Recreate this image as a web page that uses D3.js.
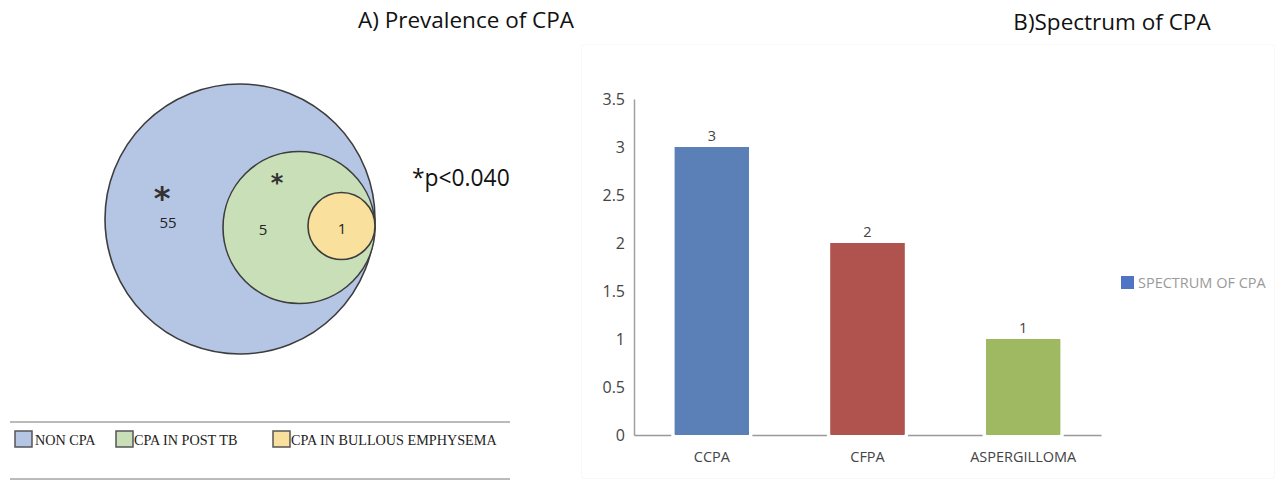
<!DOCTYPE html>
<html>
<head>
<meta charset="utf-8">
<script src="https://cdn.jsdelivr.net/npm/d3@7"></script>
<style>
  html, body { margin: 0; padding: 0; background: #fff; }
  svg { display: block; }
</style>
</head>
<body>
<script>
// ---------- DATA ----------
const vennGroups = ["NON CPA", "CPA IN POST TB", "CPA IN BULLOUS EMPHYSEMA"];
const vennValues = [55, 5, 1];
const vennSignif = [true, true, false];
const pValueLabel = "*p<0.040";

const barCategories = ["CCPA", "CFPA", "ASPERGILLOMA"];
const barValues = [3, 2, 1];
const barSeriesName = "SPECTRUM OF CPA";
const yTicks = [0, 0.5, 1, 1.5, 2, 2.5, 3, 3.5];

const titleA = "A) Prevalence of CPA";
const titleB = "B)Spectrum of CPA";

// ---------- SETUP ----------
const W = 1278, H = 481;
const svg = d3.select("body").append("svg").attr("width", W).attr("height", H);
const calibri = "'Open Sans', 'Noto Sans', sans-serif";

// ---------- PANEL A: nested Venn ----------
const vennFill = d3.scaleOrdinal().domain(vennGroups).range(["#b5c6e5", "#c9dfb8", "#f9e09c"]);
const vennR = d3.scaleOrdinal().domain(vennGroups).range([135, 76, 33.5]);
const tangentX = 375, tangentY = 222;
const cyOffset = d3.scaleOrdinal().domain(vennGroups).range([-3, 5.5, 4]);

svg.append("text").attr("x", 466).attr("y", 28).attr("text-anchor", "middle")
  .attr("font-family", calibri).attr("font-size", 22.5).attr("fill", "#111").text(titleA);

const gA = svg.append("g");
gA.selectAll("circle.venn").data(vennGroups).join("circle")
  .attr("class", "venn")
  .attr("cx", d => tangentX - vennR(d))
  .attr("cy", d => tangentY + cyOffset(d))
  .attr("r", d => vennR(d))
  .attr("fill", d => vennFill(d))
  .attr("stroke", "#3d3d3d").attr("stroke-width", 1.6);

// value labels
const labelPos = d3.scaleOrdinal().domain(vennGroups).range([[168, 228], [263, 235], [342, 234]]);
gA.selectAll("text.vval").data(vennGroups).join("text")
  .attr("class", "vval")
  .attr("x", d => labelPos(d)[0]).attr("y", d => labelPos(d)[1])
  .attr("text-anchor", "middle").attr("font-family", calibri).attr("font-size", 15)
  .attr("fill", "#222")
  .text((d, i) => vennValues[i]);

// significance stars
const starPos = d3.scaleOrdinal().domain(vennGroups).range([[162, 209, 32], [277, 191, 24], [0, 0, 0]]);
gA.selectAll("text.star").data(vennGroups.filter((d, i) => vennSignif[i])).join("text")
  .attr("class", "star")
  .attr("x", d => starPos(d)[0]).attr("y", d => starPos(d)[1])
  .attr("text-anchor", "middle").attr("font-family", "'DejaVu Sans', sans-serif")
  .attr("font-weight", "bold").attr("font-size", d => starPos(d)[2])
  .attr("fill", "#333").text("*");

svg.append("text").attr("x", 412).attr("y", 186)
  .attr("font-family", calibri).attr("font-size", 22.8).attr("fill", "#111").text(pValueLabel);

// legend
svg.append("line").attr("x1", 10).attr("x2", 510).attr("y1", 422).attr("y2", 422)
  .attr("stroke", "#777").attr("stroke-width", 1);
svg.append("line").attr("x1", 10).attr("x2", 510).attr("y1", 479).attr("y2", 479)
  .attr("stroke", "#777").attr("stroke-width", 1);
const legX = d3.scaleOrdinal().domain(vennGroups).range([15, 116, 273]);
const lg = svg.selectAll("g.vleg").data(vennGroups).join("g").attr("class", "vleg")
  .attr("transform", d => `translate(${legX(d)},431)`);
lg.append("rect").attr("width", 17).attr("height", 16)
  .attr("fill", d => vennFill(d)).attr("stroke", "#555").attr("stroke-width", 1.5);
lg.append("text").attr("x", (d, i) => i === 0 ? 20 : 18).attr("y", 13.5)
  .attr("font-family", "'Liberation Serif', serif").attr("font-size", 14.2)
  .attr("fill", "#222").text(d => d);

// ---------- PANEL B: bar chart ----------
svg.append("text").attr("x", 1112).attr("y", 30).attr("text-anchor", "middle")
  .attr("font-family", calibri).attr("font-size", 22.5).attr("fill", "#111").text(titleB);

// faint chart-area border
svg.append("rect").attr("x", 581.5).attr("y", 44.5).attr("width", 693).attr("height", 434)
  .attr("fill", "none").attr("stroke", "#f8f8f8").attr("stroke-width", 1).attr("rx", 3);

const x = d3.scaleBand().domain(barCategories).range([634, 1101]).paddingInner(0.524).paddingOuter(0.262);
const y = d3.scaleLinear().domain([0, 3.5]).range([435, 99]);
const barColor = d3.scaleOrdinal().domain(barCategories).range(["#5b7fb7", "#b0524e", "#9fb962"]);

// y axis
const yAxis = svg.append("g").attr("transform", "translate(634,0)")
  .call(d3.axisLeft(y).tickValues(yTicks).tickSize(0).tickPadding(9).tickFormat(d3.format("~g")));
yAxis.select(".domain").attr("stroke", "#a0a0a0").attr("stroke-width", 1.5);
yAxis.selectAll("text").attr("font-family", calibri).attr("font-size", 16).attr("fill", "#444")
  .attr("dy", "0.32em");

// x axis
const xAxis = svg.append("g").attr("transform", "translate(0,435)")
  .call(d3.axisBottom(x).tickSize(0).tickPadding(17));
xAxis.select(".domain").attr("stroke", "#999").attr("stroke-width", 1.5);
xAxis.selectAll("text").attr("font-family", calibri).attr("font-size", 14.5).attr("fill", "#444");

// bars
svg.selectAll("rect.bar").data(barCategories).join("rect")
  .attr("class", "bar")
  .attr("x", d => x(d)).attr("width", x.bandwidth())
  .attr("y", (d, i) => y(barValues[i]))
  .attr("height", (d, i) => y(0) - y(barValues[i]))
  .attr("fill", d => barColor(d))
  .attr("stroke", "#fff").attr("stroke-width", 7).attr("paint-order", "stroke");
svg.selectAll("rect.barfill").data(barCategories).join("rect")
  .attr("class", "barfill")
  .attr("x", d => x(d)).attr("width", x.bandwidth())
  .attr("y", (d, i) => y(barValues[i]))
  .attr("height", (d, i) => y(0) - y(barValues[i]) - 1)
  .attr("fill", d => barColor(d));

// value labels
svg.selectAll("text.bval").data(barCategories).join("text")
  .attr("class", "bval")
  .attr("x", d => x(d) + x.bandwidth() / 2)
  .attr("y", (d, i) => y(barValues[i]) - 6)
  .attr("text-anchor", "middle").attr("font-family", calibri).attr("font-size", 14.5)
  .attr("fill", "#444").text((d, i) => barValues[i]);

// legend
const bl = svg.append("g").attr("transform", "translate(1121,276)");
bl.append("rect").attr("width", 13).attr("height", 13).attr("fill", "#4f74c4");
bl.append("text").attr("x", 17).attr("y", 12).attr("font-family", calibri)
  .attr("font-size", 14.5).attr("fill", "#9a9a9a").text(barSeriesName);
</script>
</body>
</html>
